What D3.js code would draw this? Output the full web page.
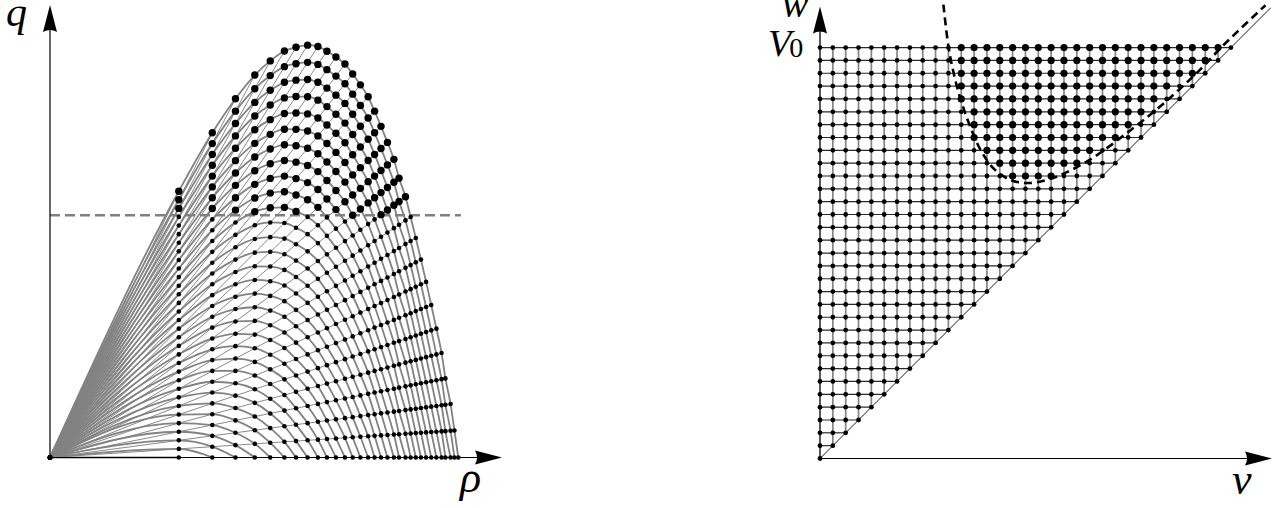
<!DOCTYPE html>
<html>
<head>
<meta charset="utf-8">
<script src="https://cdn.jsdelivr.net/npm/d3@7"></script>
<style>
    body { margin: 0; background: #fff; }
    text { font-family: "Liberation Serif", "DejaVu Serif", serif; }
</style>
</head>
<body>
<svg id="chart" width="1283" height="508"></svg>
<script>
// ρ position of each column k = w - v
var rhoLevels = [0, 1.00, 1.26, 1.44, 1.59, 1.71, 1.82, 1.91, 2.00, 2.08, 2.15,
    2.22, 2.29, 2.35, 2.41, 2.47, 2.52, 2.57, 2.62, 2.67, 2.71, 2.76, 2.80,
    2.84, 2.88, 2.92, 2.96, 3.00, 3.04, 3.07, 3.11, 3.14, 3.17];
// grid of (v, w): 0 <= v <= w <= V0
var V0 = 32;
// level of the dashed line in the (ρ, q) plane
var qStar = 28.2;
// dashed curve in the (v, w) plane
var dashV = [9.61, 10.0, 10.39, 10.91, 11.56, 12.47, 13.51, 14.81, 16.11, 17.67,
    19.23, 21.3, 24.16, 26.76, 29.62, 31.43, 34.69];
var dashW = [35.35, 32.1, 30.1, 28.1, 26.2, 24.1, 22.6, 21.7, 21.45, 21.7,
    22.3, 23.45, 25.55, 27.65, 30.3, 32.2, 35.3];

var svg = d3.select("#chart");

// grid points
var points = [];
for (var w = 0; w <= V0; w++) {
    for (var v = 0; v <= w; v++) {
        var rho = rhoLevels[w - v];
        points.push({v: v, w: w, rho: rho, q: rho * v, big: rho * v > qStar});
    }
}

function arrowUp(g, x, y) {
    g.append("path")
        .attr("d", "M" + x + "," + y + " L" + (x - 7) + "," + (y + 27) +
            " Q" + x + "," + (y + 23) + " " + (x + 7) + "," + (y + 27) + " Z")
        .attr("fill", "#000");
}
function arrowRight(g, x, y) {
    g.append("path")
        .attr("d", "M" + x + "," + y + " L" + (x - 27) + "," + (y - 7) +
            " Q" + (x - 23) + "," + y + " " + (x - 27) + "," + (y + 7) + " Z")
        .attr("fill", "#000");
}

// ---------- left panel: (rho, q) ----------
var xL = d3.scaleLinear().domain([0, 3.5]).range([50, 500.8]);
var yL = d3.scaleLinear().domain([0, 52.7]).range([457.5, 4.8]);
var left = svg.append("g");

var lineL = d3.line()
    .x(function (d) { return xL(d.rho); })
    .y(function (d) { return yL(d.q); });

// rays v = const
for (var v = 0; v < V0; v++) {
    var ray = points.filter(function (p) { return p.v === v; });
    left.append("path")
        .attr("d", lineL([ray[0], ray[ray.length - 1]]))
        .attr("fill", "none")
        .attr("stroke", "#8a8a8a")
        .attr("stroke-width", 1);
}
// arcs w = const
var arcLine = d3.line()
    .x(function (d) { return xL(d.rho); })
    .y(function (d) { return yL(d.q); })
    .curve(d3.curveMonotoneX);
for (var w = 1; w <= V0; w++) {
    var arc = points.filter(function (p) { return p.w === w; })
        .sort(function (a, b) { return a.rho - b.rho; });
    left.append("path")
        .attr("d", arcLine(arc))
        .attr("fill", "none")
        .attr("stroke", "#828282")
        .attr("stroke-width", 1.8);
}

// dashed level
left.append("line")
    .attr("x1", xL(0)).attr("x2", xL(rhoLevels[V0] + 0.02))
    .attr("y1", yL(qStar)).attr("y2", yL(qStar))
    .attr("stroke", "#808080")
    .attr("stroke-width", 2.4)
    .attr("stroke-dasharray", "10,5");

// axes
left.append("line")
    .attr("x1", xL(0)).attr("y1", yL(0)).attr("x2", xL(0)).attr("y2", 20)
    .attr("stroke", "#000").attr("stroke-width", 1.2);
left.append("line")
    .attr("x1", xL(0)).attr("y1", yL(0)).attr("x2", 485).attr("y2", yL(0))
    .attr("stroke", "#000").attr("stroke-width", 1.2);
arrowUp(left, xL(0), 5);
arrowRight(left, 502, yL(0));

left.selectAll("circle")
    .data(points)
    .enter().append("circle")
    .attr("cx", function (d) { return xL(d.rho); })
    .attr("cy", function (d) { return yL(d.q); })
    .attr("r", function (d) { return d.big ? 3.7 : 2.3; })
    .attr("fill", "#000");

left.append("text").attr("x", 6).attr("y", 26)
    .style("font-style", "italic").style("font-size", "42px").text("q");
left.append("text").attr("x", 460).attr("y", 492)
    .style("font-style", "italic").style("font-size", "44px").text("ρ");

// ---------- right panel: (v, w) ----------
var xR = d3.scaleLinear().domain([0, 35.2]).range([820, 1272]);
var yR = d3.scaleLinear().domain([0, 35.2]).range([458.5, 6.5]);
var right = svg.append("g");

// vertical grid lines v = const
for (var v = 1; v < V0; v++) {
    right.append("line")
        .attr("x1", xR(v)).attr("x2", xR(v))
        .attr("y1", yR(v)).attr("y2", yR(V0))
        .attr("stroke", "#858585").attr("stroke-width", 1.7);
}
// horizontal grid lines w = const
for (var w = 1; w <= V0; w++) {
    right.append("line")
        .attr("x1", xR(0)).attr("x2", xR(w))
        .attr("y1", yR(w)).attr("y2", yR(w))
        .attr("stroke", "#2a2a2a").attr("stroke-width", 1.2);
}
// diagonal v = w
right.append("line")
    .attr("x1", xR(0)).attr("y1", yR(0)).attr("x2", xR(35.1)).attr("y2", yR(35.1))
    .attr("stroke", "#000").attr("stroke-width", 0.9);

// axes
right.append("line")
    .attr("x1", xR(0)).attr("y1", yR(0)).attr("x2", xR(0)).attr("y2", 22)
    .attr("stroke", "#000").attr("stroke-width", 1.3);
right.append("line")
    .attr("x1", xR(0)).attr("y1", yR(0)).attr("x2", 1256).attr("y2", yR(0))
    .attr("stroke", "#000").attr("stroke-width", 1.2);
arrowUp(right, xR(0), 6.5);
arrowRight(right, 1272, yR(0));

// dashed curve
var dashPts = dashV.map(function (v, i) { return [v, dashW[i]]; });
right.append("path")
    .attr("d", d3.line()
        .x(function (d) { return xR(d[0]); })
        .y(function (d) { return yR(d[1]); })
        .curve(d3.curveCatmullRom)(dashPts))
    .attr("fill", "none")
    .attr("stroke", "#000")
    .attr("stroke-width", 2.6)
    .attr("stroke-dasharray", "8,5");

right.selectAll("circle")
    .data(points)
    .enter().append("circle")
    .attr("cx", function (d) { return xR(d.v); })
    .attr("cy", function (d) { return yR(d.w); })
    .attr("r", function (d) { return d.big ? 3.6 : 2.4; })
    .attr("fill", "#000");

right.append("text").attr("x", 795).attr("y", 17)
    .attr("text-anchor", "middle")
    .style("font-style", "italic").style("font-size", "40px").text("w");
var v0 = right.append("text").attr("x", 768).attr("y", 56)
    .style("font-size", "38px");
v0.append("tspan").style("font-style", "italic").text("V");
v0.append("tspan").attr("dx", -2).attr("dy", 1).style("font-size", "28px").text("0");
right.append("text").attr("x", 1232).attr("y", 494)
    .style("font-style", "italic").style("font-size", "44px").text("v");
</script>
</body>
</html>
